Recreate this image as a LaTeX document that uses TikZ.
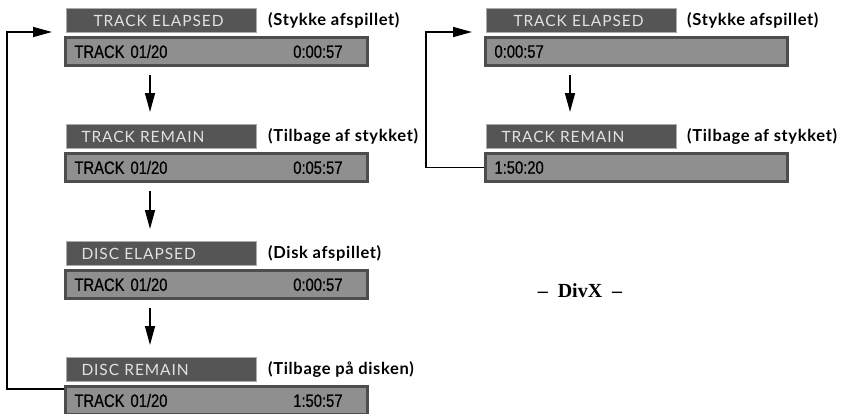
\documentclass[tikz,border=0pt]{standalone}
\usepackage{fontspec}
\usepackage{xcolor}
\usepackage{tikz}
\usetikzlibrary{arrows.meta,positioning,calc}

\newfontfamily\ttlfont[LetterSpace=6]{Lato}
\newfontfamily\lblfont[LetterSpace=4]{Lato}
\newfontfamily\dspfont[FakeStretch=0.82, FakeBold=0.6, WordSpace=0.8]{Liberation Sans}
\newfontfamily\divxfont{Liberation Serif}

\definecolor{ttlfill}{HTML}{555555}
\definecolor{ttlline}{HTML}{ABABAB}
\definecolor{ttltext}{HTML}{E2E2E2}
\definecolor{dspfill}{HTML}{8F8F8F}
\definecolor{dspline}{HTML}{4D4D4D}

\begin{document}
\begin{tikzpicture}[
	x=1pt, y=-1pt,
	ttl/.style={rectangle, draw=ttlline, line width=1pt, fill=ttlfill, text=ttltext, anchor=north west,
		minimum height=24pt, text width=184pt, inner xsep=3pt, inner ysep=0pt, align=left,
		font=\ttlfont\fontsize{15.5}{16}\selectfont},
	dsp/.style={rectangle, draw=dspline, line width=3pt, fill=dspfill, text=black,
		minimum height=28pt, text width=268pt, inner xsep=17pt, inner ysep=0pt, align=left,
		font=\dspfont\fontsize{18}{20}\selectfont},
	lbl/.style={inner sep=0pt, font=\lblfont\bfseries\fontsize{16.5}{17}\selectfont},
	arr/.style={-{Triangle[length=19pt, width=10pt]}, line width=1.5pt}
]
\useasboundingbox (0,0) rectangle (841,413);

% linke spalte
\node[ttl] (t1) at (66,8) {\hspace*{24pt}TRACK ELAPSED};
\node[dsp, below=3pt of t1.south west, anchor=north west, xshift=-2pt] (d1) {\hspace*{-8pt}TRACK 01/20\hfill 0:00:57\hspace*{8pt}};
\node[lbl, right=11pt of t1] (l1) {(Stykke afspillet)};

\node[ttl] (t2) at (66,124) {\hspace*{12pt}TRACK REMAIN};
\node[dsp, below=3pt of t2.south west, anchor=north west, xshift=-2pt] (d2) {\hspace*{-8pt}TRACK 01/20\hfill 0:05:57\hspace*{8pt}};
\node[lbl, right=11pt of t2] (l2) {(Tilbage af stykket)};

\node[ttl] (t3) at (66,241) {\hspace*{12pt}DISC ELAPSED};
\node[dsp, below=3pt of t3.south west, anchor=north west, xshift=-2pt] (d3) {\hspace*{-8pt}TRACK 01/20\hfill 0:00:57\hspace*{8pt}};
\node[lbl, right=11pt of t3] (l3) {(Disk afspillet)};

\node[ttl] (t4) at (66,357) {\hspace*{12pt}DISC REMAIN};
\node[dsp, below=3pt of t4.south west, anchor=north west, xshift=-2pt] (d4) {\hspace*{-8pt}TRACK 01/20\hfill 1:50:57\hspace*{8pt}};
\node[lbl, right=11pt of t4] (l4) {(Tilbage på disken)};

\draw[arr] ([xshift=86pt,yshift=-8pt]d1.south west) -- ([xshift=84pt,yshift=12pt]t2.north west);
\draw[arr] ([xshift=86pt,yshift=-8pt]d2.south west) -- ([xshift=84pt,yshift=12pt]t3.north west);
\draw[arr] ([xshift=86pt,yshift=-8pt]d3.south west) -- ([xshift=84pt,yshift=12pt]t4.north west);
\draw[arr] ([yshift=-4pt]d4.north west) -- ++(-57,0) |- ([xshift=-14pt,yshift=1pt]t1.south west);

% rechte spalte (DivX)
\node[ttl] (r1) at (486,8) {\hspace*{24pt}TRACK ELAPSED};
\node[dsp, below=3pt of r1.south west, anchor=north west, xshift=-2pt] (rd1) {\hspace*{-8pt}0:00:57};
\node[lbl, right=10pt of r1] (rl1) {(Stykke afspillet)};

\node[ttl] (r2) at (486,124) {\hspace*{12pt}TRACK REMAIN};
\node[dsp, below=3pt of r2.south west, anchor=north west, xshift=-2pt] (rd2) {\hspace*{-8pt}1:50:20};
\node[lbl, right=10pt of r2] (rl2) {(Tilbage af stykket)};

\draw[arr] ([xshift=86pt,yshift=-8pt]rd1.south west) -- ([xshift=84pt,yshift=12pt]r2.north west);
\draw[arr] (rd2.west) -- ++(-58,0) |- ([xshift=-14pt,yshift=1pt]r1.south west);

\node[font=\divxfont\bfseries\fontsize{20}{21}\selectfont] (divx) at (580,291) {\textendash\ \ DivX\ \ \textendash};
\end{tikzpicture}
\end{document}
